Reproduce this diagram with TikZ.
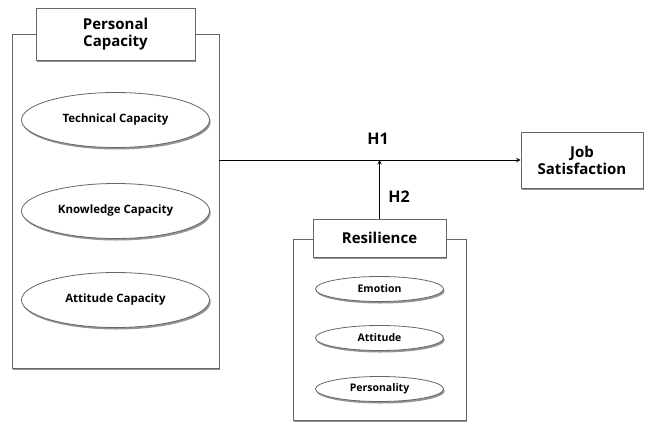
\documentclass[tikz,border=0pt]{standalone}
\usepackage{fontspec}
\setmainfont{Open Sans}
\usetikzlibrary{shapes,shadows,arrows}
\tikzstyle{frame}    = [draw=black!60, line width=0.8pt, fill=white, inner sep=0pt, drop shadow={shadow xshift=1.2pt, shadow yshift=-2pt, fill=black!70, opacity=0.6}]
\tikzstyle{titlebox} = [frame, align=center, font=\bfseries\fontsize{15}{17}\selectfont]
\tikzstyle{factor}   = [frame, ellipse, font=\bfseries\fontsize{11.5}{13}\selectfont]
\tikzstyle{small}    = [frame, ellipse, font=\bfseries\fontsize{10.5}{12}\selectfont, minimum width=128pt, minimum height=25pt]
\tikzstyle{hyp}      = [font=\bfseries\fontsize{16}{18}\selectfont]
\tikzstyle{arrow}    = [line width=1pt,->,>=stealth]

\begin{document}
\begin{tikzpicture}[x=1pt,y=-1pt]
		\useasboundingbox (0,0) rectangle (647,423);

		% personal capacity
		\node[frame, minimum width=207pt, minimum height=334pt] (pcbox) at (115.5,201) {};
		\node[titlebox, minimum width=159pt, minimum height=52pt] (pc) at (115.5,34) {Personal\\Capacity};
		\node[factor, minimum width=188pt, minimum height=55pt] (tech) at (115.5,120) {Technical Capacity};
		\node[factor, minimum width=188pt, minimum height=55pt] (know) at (115.5,211) {Knowledge Capacity};
		\node[factor, minimum width=188pt, minimum height=55pt] (att) at (115.5,300) {Attitude Capacity};

		% job satisfaction
		\node[titlebox, minimum width=122pt, minimum height=56pt] (job) at (582,160) {Job\\Satisfaction};

		% resilience
		\node[frame, minimum width=173pt, minimum height=181pt] (resbox) at (379.5,329.5) {};
		\node[titlebox, minimum width=133pt, minimum height=38pt] (res) at (379.5,238) {Resilience};
		\node[small] (emo) at (379.5,289) {Emotion};
		\node[small] (attit) at (379.5,338) {Attitude};
		\node[small] (pers) at (379.5,389) {Personality};

		% hypotheses
		\coordinate (meet) at (res.north |- job.west);
		\draw[arrow] (pcbox.east |- job.west) -- (job.west);
		\draw[arrow] (res.north) -- (meet);
		\node[hyp] (h1) at (378,139) {H1};
		\node[hyp] (h2) at (399,197) {H2};
	\end{tikzpicture}
\end{document}
